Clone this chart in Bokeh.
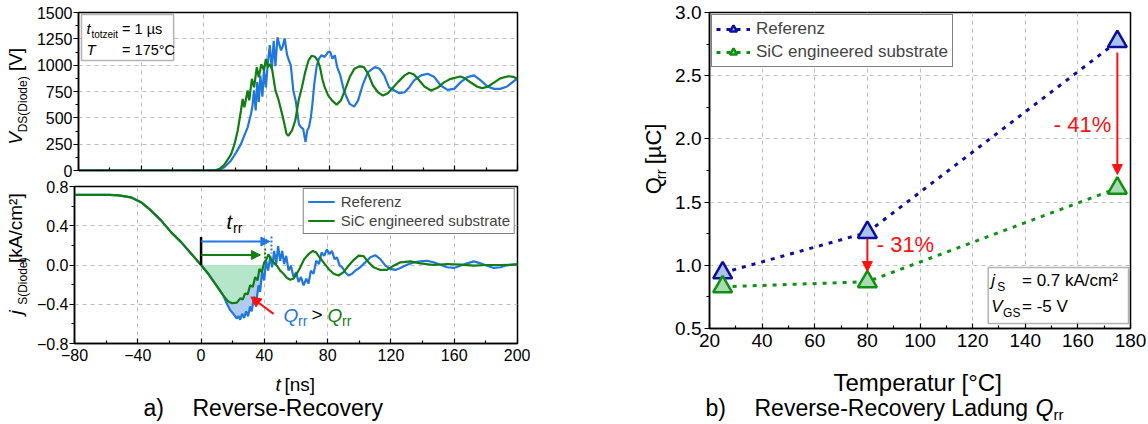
import math
import numpy as np
from bokeh.plotting import figure
from bokeh.layouts import row, column
from bokeh.models import (FixedTicker, Label, Arrow, NormalHead, BoxAnnotation,
                          Legend, LegendItem, Range1d)
from bokeh.embed import file_html
from bokeh.resources import INLINE

FONT = "Liberation Sans"

# ---------------- data ----------------
# (a) top: V_DS(Diode) [V] over t [ns]
t_ref_v = [-80, 8.9, 13, 17.3, 20.5, 23.6, 26, 27.9, 30, 31, 31.9, 33, 34, 35, 36, 37.3, 38.3, 39.5, 40.7, 42,
           43.3, 44.5, 45.6, 46.9, 48, 49.2, 50.3, 51.5, 53, 54.3, 55.4, 57, 58.5, 60.6, 62, 63.3, 64.8, 65.9, 67,
           68.2, 69.2, 70.4, 72, 73.4, 75, 77, 79.3, 80.5, 82, 83.5, 85, 87, 89, 91, 93, 95.8, 98.3, 101.5, 104.7,
           109, 112, 115, 118, 121.5, 124.7, 128, 131, 134, 138.5, 142.7, 147, 151, 155.4, 159.6, 163.8, 168,
           172.3, 176.5, 180.8, 185, 189, 193.4, 198.7, 200]
v_ref = [0, 0, 30, 95, 170, 250, 340, 410, 537, 617, 760, 570, 840, 650, 900, 700, 960, 790, 1010, 1190,
         960, 1230, 990, 1265, 1200, 1140, 1180, 1255, 1100, 1040, 1000, 760, 665, 440, 410, 395, 270, 380, 410,
         504, 632, 823, 998, 1062, 1094, 1078, 1126, 1126, 1062, 1094, 982, 903, 775, 695, 632, 606, 663, 823, 935,
         982, 966, 903, 791, 760, 734, 743, 791, 855, 903, 919, 887, 807, 766, 775, 839, 887,
         903, 855, 798, 775, 775, 798, 861, 865]
t_sic_v = [-80, 6.8, 10, 13.1, 17.3, 19.5, 21.5, 23.6, 24.7, 25.8, 27.9, 28.9, 30.6, 32, 33.7, 35, 36.6, 38.3,
           39.5, 40.8, 42.1, 43.5, 45.6, 47.7, 49.8, 51.3, 52.6, 53.8, 55, 56.2, 58.3, 60.4, 62.5, 64.6, 66.7, 68.8,
           70.8, 72.5, 74, 75.5, 77, 79.3, 81.8, 84.6, 87.3, 89.9, 93, 96, 99.4, 102, 104.7, 107.8, 111, 114.2,
           117.3, 120.5, 123.7, 128, 131, 134, 137.4, 140.6, 144.8, 149, 153.3, 157.5, 163.5, 166.5, 170.2, 174.4,
           177.5, 181, 185, 189, 194, 197.5, 200]
v_sic = [0, 0, 15, 57, 153, 250, 375, 567, 680, 600, 760, 665, 870, 790, 980, 885, 1010, 950,
         1060, 980, 1010, 960, 760, 665, 540, 445, 350, 330, 355, 380, 477, 665, 790, 935, 1045, 1090,
         1080, 1046, 982, 871, 791, 711, 663, 625, 663, 760, 887, 967, 989, 982, 919, 807, 743, 711,
         734, 785, 839, 903, 928, 912, 855, 798, 760, 785, 839, 870, 892, 875, 835, 795,
         782, 795, 835, 875, 895, 888, 870]

# (a) bottom: j_S(Diode) [kA/cm²] over t [ns]
t_common_j = [-80, -58, -52, -44.4, -38, -31.7, -25.3, -19, -12.6, -6.2, 0, 5, 10, 14]
j_common = [0.715, 0.715, 0.71, 0.69, 0.64, 0.556, 0.455, 0.335, 0.233, 0.115, 0.0, -0.1, -0.215, -0.31]
t_ref_j_tail = [16.2, 18.4, 20.5, 22.6, 23.6, 24.7, 26, 27.2, 28.5, 29.7, 31, 32, 33.5, 34.8, 36.3, 37.3, 38.6,
                39.9, 41.1, 42.4, 43.7, 44.9, 46.2, 47.5, 48.7, 50, 51.3, 52.5, 53.8, 55.3, 56.8, 58.4, 60.1,
                61.6, 63.1, 64.8, 66.5, 67.9, 69.4, 71.1, 72.8, 74.5, 76.2, 77.8, 79.5, 81.2, 82.7, 84.4, 85.9,
                87.6, 89.2, 91.1, 93.2, 95.4, 97.5, 100.6, 103.8, 107, 110.1, 113.3, 116.5, 119.6, 122.8, 126,
                130.2, 134.4, 138.6, 142.8, 147, 151.3, 155.5, 159.7, 163.9, 168.1, 172.4, 176.6, 180.8, 185,
                189.2, 193.5, 200]
j_ref_tail = [-0.39, -0.46, -0.5, -0.545, -0.52, -0.557, -0.497, -0.54, -0.473, -0.523, -0.423, -0.473, -0.323,
              -0.39, -0.207, -0.273, -0.073, -0.157, 0.043, -0.057, 0.093, -0.023, 0.143, 0.01, 0.193, 0.043,
              0.143, 0.01, 0.093, -0.057, -0.007, -0.123, -0.073, -0.173, -0.123, -0.207, -0.14, -0.19, -0.057,
              -0.09, 0.043, 0.01, 0.127, 0.093, 0.16, 0.11, 0.143, 0.06, 0.077, -0.007, -0.023, -0.073, -0.107,
              -0.09, -0.057, -0.023, 0.027, 0.08, 0.1, 0.06, -0.007, -0.04, -0.05, -0.03, 0.003, 0.027, 0.037,
              0.043, 0.027, 0.003, -0.023, -0.03, -0.007, 0.017, 0.037, 0.017, -0.007, -0.03, -0.023, -0.003, 0.01]
t_sic_j_tail = [17, 19.5, 22.6, 24.7, 26.4, 27.8, 29.5, 31, 32.7, 34.2, 35.7, 36.9, 38.4, 39.9, 41.1, 42.6, 44.1,
                45.8, 47.9, 50, 52.1, 54.2, 56.3, 58.4, 60.5, 62.7, 65.2, 67.9, 70.7, 72.8, 74.9, 77.4, 80.6,
                83.8, 86.9, 90.1, 93.2, 96.4, 99.6, 102.7, 105.9, 109, 113.3, 117.5, 121.7, 126, 132.3, 138.6,
                147, 155.5, 164, 172.4, 180.8, 189.2, 200]
j_sic_tail = [-0.37, -0.39, -0.383, -0.34, -0.35, -0.29, -0.297, -0.207, -0.223, -0.123, -0.157, -0.04, -0.073,
              0.027, 0.05, 0.11, 0.06, 0.027, -0.007, -0.057, -0.09, -0.13, -0.15, -0.14, -0.09, -0.023, 0.06,
              0.11, 0.143, 0.127, 0.077, 0.027, -0.04, -0.09, -0.107, -0.073, -0.007, 0.05, 0.095, 0.09, 0.027,
              -0.023, -0.05, -0.05, -0.007, 0.027, 0.037, 0.017, 0.0, 0.01, 0.003, -0.007, 0.0, 0.0, 0.003]

# (b) Q_rr [µC] over temperature [°C]
temps = [25, 80, 175]
qrr_ref = [0.94, 1.26, 2.77]
qrr_sic = [0.83, 0.87, 1.61]

series_names = ["Referenz", "SiC engineered substrate"]
x_ticks = [-80, -40, 0, 40, 80, 120, 160, 200]
x_minor = [-60, -20, 20, 60, 100, 140, 180]
v_ticks = [0, 250, 500, 750, 1000, 1250, 1500]
v_minor = [125, 375, 625, 875, 1125, 1375]
j_ticks = [-0.8, -0.4, 0, 0.4, 0.8]
j_minor = [-0.6, -0.2, 0.2, 0.6]
temp_ticks = [20, 40, 60, 80, 100, 120, 140, 160, 180]
temp_minor = [30, 50, 70, 90, 110, 130, 150, 170]
q_ticks = [0.5, 1.0, 1.5, 2.0, 2.5, 3.0]
q_minor = [0.75, 1.25, 1.75, 2.25, 2.75]

# ---------------- styles ----------------
BLUE_L = "#2277dd"
GREEN_L = "#127d12"
BLUE_FILL = "#aecbf0"
GREEN_FILL = "#b6e6c9"
BLUE_R = "#0d0d9e"
BLUE_R_FILL = "#a9c4ea"
GREEN_R = "#109010"
GREEN_R_FILL = "#a9dab3"
RED = "#ff1010"
GRID = "#bdbdbd"
ROT = math.pi / 2

t_ref_j = t_common_j + t_ref_j_tail
j_ref = j_common + j_ref_tail
t_sic_j = t_common_j + t_sic_j_tail
j_sic = j_common + j_sic_tail


def style_fig(p):
    p.outline_line_color = "black"
    p.outline_line_width = 1.5
    for g in (p.xgrid[0], p.ygrid[0]):
        g.grid_line_color = GRID
        g.grid_line_dash = "4 4"
        g.grid_line_width = 1


def style_axis(ax, size, inside):
    ax.axis_line_color = "black"
    ax.axis_line_width = 1.5
    ax.major_label_text_font = FONT
    ax.major_label_text_font_size = f"{size}px"
    ax.major_label_text_color = "black"
    ax.major_tick_line_color = "black"
    ax.minor_tick_line_color = "black"
    ax.major_tick_line_width = 1.2
    ax.minor_tick_line_width = 1.2
    if inside:
        ax.major_tick_in, ax.major_tick_out = 5, 0
        ax.minor_tick_in, ax.minor_tick_out = 3, 0
    else:
        ax.major_tick_in, ax.major_tick_out = 0, 5
        ax.minor_tick_in, ax.minor_tick_out = 0, 3


def ident(v):
    return v


def lab(p, px, py, text, size, fx=ident, fy=ident, color="black", style="normal", rot=False):
    """Place a text whose alphabetic baseline starts at page pixel (px, py)."""
    if rot:
        cx, cy, ang = px - 0.33 * size, py, ROT
    else:
        cx, cy, ang = px, py - 0.33 * size, 0.0
    p.add_layout(Label(x=fx(cx), y=fy(cy), text=text, text_font=FONT, text_font_size=f"{size}px",
                       text_color=color, text_font_style=style, angle=ang,
                       text_align="left", text_baseline="middle"))


def text_fig(x0, y0, w, h):
    """Blank figure whose data coordinates equal page pixels (for texts outside plot frames)."""
    return figure(width=w, height=h, x_range=Range1d(x0, x0 + w), y_range=Range1d(y0 + h, y0),
                  x_axis_type=None, y_axis_type=None, output_backend="svg", toolbar_location=None,
                  min_border=0, outline_line_color=None)


# pixel -> data helpers for annotations inside the frames
def xa(px):
    return -80 + (px - 74) * 280 / 443


def y1(py):
    return 1500 - (py - 12) * 1500 / 158


def y2(py):
    return 0.8 - (py - 186) * 1.6 / 157


def x3(px):
    return 20 + (px - 707) * 160 / 423


def y3(py):
    return 3.0 - (py - 12) * 2.5 / 316


# ---------------- (a) top ----------------
p1 = figure(width=497, height=178, x_range=Range1d(-80, 200), y_range=Range1d(0, 1500),
            output_backend="svg", toolbar_location=None,
            min_border_left=41, min_border_right=13, min_border_top=12, min_border_bottom=8)
style_fig(p1)
p1.xaxis.ticker = FixedTicker(ticks=x_ticks, minor_ticks=x_minor)
p1.yaxis.ticker = FixedTicker(ticks=v_ticks, minor_ticks=v_minor)
style_axis(p1.xaxis[0], 1, True)
style_axis(p1.yaxis[0], 16, False)
p1.xaxis.major_label_overrides = {t: "" for t in x_ticks}
p1.xaxis.major_label_standoff = 0
p1.yaxis.major_label_standoff = 1

p1.line(t_ref_v, v_ref, line_color=BLUE_L, line_width=2.2)
p1.line(t_sic_v, v_sic, line_color=GREEN_L, line_width=2.2)

p1.add_layout(BoxAnnotation(left=xa(77), right=xa(170), top=y1(14), bottom=y1(60),
                            fill_color="white", fill_alpha=1, line_color="black", line_width=1.5))
lab(p1, 82, 33, "t", 15, xa, y1, style="italic")
lab(p1, 87, 37, "totzeit", 10, xa, y1)
lab(p1, 118, 33, "= 1 µs", 14.5, xa, y1)
lab(p1, 82, 54, "T", 15, xa, y1, style="italic")
lab(p1, 118, 54, "= 175°C", 14.5, xa, y1)

# ---------------- (a) bottom ----------------
p2 = figure(width=497, height=195, x_range=Range1d(-80, 200), y_range=Range1d(-0.8, 0.8),
            output_backend="svg", toolbar_location=None,
            min_border_left=41, min_border_right=13, min_border_top=8, min_border_bottom=30)
style_fig(p2)
p2.xaxis.ticker = FixedTicker(ticks=x_ticks, minor_ticks=x_minor)
p2.yaxis.ticker = FixedTicker(ticks=j_ticks, minor_ticks=j_minor)
style_axis(p2.xaxis[0], 16, True)
style_axis(p2.yaxis[0], 16, False)
p2.xaxis.major_label_overrides = {-80: "\u221280", -40: "\u221240"}
p2.yaxis.major_label_overrides = {-0.8: "\u22120.8", -0.4: "\u22120.4", 0: "0.0", 0.4: "0.4", 0.8: "0.8"}
p2.yaxis.major_label_standoff = 1
p2.xaxis.major_label_standoff = 5

# shaded recovery charge areas
tr = np.array(t_ref_j, dtype=float)
jr = np.array(j_ref, dtype=float)
mr = (tr >= 0) & (tr <= 44)
p2.varea(x=tr[mr], y1=0, y2=np.minimum(jr[mr], 0), fill_color=BLUE_FILL, fill_alpha=1)
ts = np.array(t_sic_j, dtype=float)
js = np.array(j_sic, dtype=float)
ms = (ts >= 0) & (ts <= 40)
p2.varea(x=ts[ms], y1=0, y2=np.minimum(js[ms], 0), fill_color=GREEN_FILL, fill_alpha=1)

r_ref = p2.line(t_ref_j, j_ref, line_color=BLUE_L, line_width=2.2)
r_sic = p2.line(t_sic_j, j_sic, line_color=GREEN_L, line_width=2.2)

leg1 = Legend(items=[LegendItem(label=series_names[0], renderers=[r_ref]),
                     LegendItem(label=series_names[1], renderers=[r_sic])],
              location="top_right", margin=2, padding=4, spacing=2,
              label_text_font=FONT, label_text_font_size="15px",
              glyph_width=27, glyph_height=17, label_height=17, label_standoff=6,
              border_line_color="black", border_line_width=1.5, background_fill_alpha=1)
p2.add_layout(leg1)

# t_rr marker and arrows
p2.segment(x0=[0], y0=[0.0], x1=[0], y1=[y2(236.5)], line_color="black", line_width=2.5)
p2.add_layout(Arrow(end=NormalHead(size=9, fill_color=BLUE_L, line_color=BLUE_L),
                    x_start=0, y_start=y2(241), x_end=43.5, y_end=y2(241),
                    line_color=BLUE_L, line_width=2))
p2.add_layout(Arrow(end=NormalHead(size=9, fill_color=GREEN_L, line_color=GREEN_L),
                    x_start=0, y_start=y2(254.5), x_end=37.5, y_end=y2(254.5),
                    line_color=GREEN_L, line_width=2))
p2.segment(x0=[44.5], y0=[y2(236)], x1=[44.5], y1=[y2(253)], line_color=BLUE_L,
           line_width=2, line_dash="2 2")
p2.segment(x0=[40.5], y0=[y2(248)], x1=[40.5], y1=[y2(258)], line_color=GREEN_L,
           line_width=2, line_dash="2 2")
lab(p2, 226, 228, "t", 20, xa, y2, style="italic")
lab(p2, 232.5, 232, "rr", 14, xa, y2)

p2.add_layout(Arrow(end=NormalHead(size=10, fill_color=RED, line_color=RED),
                    x_start=45.8, y_start=-0.498, x_end=31.5, y_end=-0.325,
                    line_color=RED, line_width=2))
lab(p2, 283, 321, "Q", 19, xa, y2, color=BLUE_L, style="italic")
lab(p2, 297.5, 325, "rr", 14, xa, y2, color=BLUE_L)
lab(p2, 311, 320, ">", 19, xa, y2)
lab(p2, 327, 321, "Q", 19, xa, y2, color=GREEN_L, style="italic")
lab(p2, 341.5, 325, "rr", 14, xa, y2, color=GREEN_L)

# ---------------- text areas of (a) ----------------
ylabA = text_fig(0, 0, 33, 178)
lab(ylabA, 21, 149, "V", 19, style="italic", rot=True)
lab(ylabA, 26, 135, "DS(Diode)", 12, rot=True)
lab(ylabA, 21, 66, "[V]", 19, rot=True)

ylabB = text_fig(0, 178, 33, 195)
lab(ylabB, 21, 337, "j", 19, style="italic", rot=True)
lab(ylabB, 26, 325, "S(Diode)", 12, rot=True)
lab(ylabB, 21, 273, "[kA/cm²]", 19, rot=True)

capA = text_fig(0, 373, 530, 51)
lab(capA, 275, 390, "t", 19, style="italic")
lab(capA, 284, 390, "[ns]", 19)
lab(capA, 143, 415, "a)", 23)
lab(capA, 192, 415, "Reverse-Recovery", 23)

# ---------------- (b) ----------------
p3 = figure(width=476, height=358, x_range=Range1d(20, 180), y_range=Range1d(0.5, 3.0),
            output_backend="svg", toolbar_location=None,
            min_border_left=35, min_border_right=18, min_border_top=12, min_border_bottom=30)
style_fig(p3)
p3.xaxis.ticker = FixedTicker(ticks=temp_ticks, minor_ticks=temp_minor)
p3.yaxis.ticker = FixedTicker(ticks=q_ticks, minor_ticks=q_minor)
style_axis(p3.xaxis[0], 19, True)
style_axis(p3.yaxis[0], 19, False)
p3.yaxis.major_label_overrides = {0.5: "0.5", 1.0: "1.0", 1.5: "1.5", 2.0: "2.0", 2.5: "2.5", 3.0: "3.0"}
p3.yaxis.major_label_standoff = 3
p3.xaxis.major_label_standoff = 5

l_ref = p3.line(temps, qrr_ref, line_color=BLUE_R, line_width=3, line_dash="4 6")
s_ref = p3.scatter(temps, qrr_ref, marker="triangle", size=19, fill_color=BLUE_R_FILL,
                   line_color=BLUE_R, line_width=2.5)
l_sic = p3.line(temps, qrr_sic, line_color=GREEN_R, line_width=3, line_dash="4 6")
s_sic = p3.scatter(temps, qrr_sic, marker="triangle", size=19, fill_color=GREEN_R_FILL,
                   line_color=GREEN_R, line_width=2.5)

leg2 = Legend(items=[LegendItem(label=series_names[0], renderers=[l_ref, s_ref]),
                     LegendItem(label=series_names[1], renderers=[l_sic, s_sic])],
              location="top_left", margin=2, padding=4, spacing=3,
              label_text_font=FONT, label_text_font_size="17px",
              glyph_width=34, glyph_height=18, label_height=18, label_standoff=6,
              border_line_color="black", border_line_width=1.5, background_fill_alpha=1)
p3.add_layout(leg2)

p3.add_layout(Arrow(end=NormalHead(size=10, fill_color=RED, line_color=RED),
                    x_start=175, y_start=y3(52), x_end=175, y_end=y3(174),
                    line_color=RED, line_width=2))
p3.add_layout(Arrow(end=NormalHead(size=10, fill_color=RED, line_color=RED),
                    x_start=80, y_start=y3(238), x_end=80, y_end=y3(271),
                    line_color=RED, line_width=2))
lab(p3, 1053, 131, "- 41%", 22, x3, y3, color=RED)
lab(p3, 875, 251, "- 31%", 22, x3, y3, color=RED)

p3.add_layout(BoxAnnotation(left=x3(987), right=x3(1128), top=y3(267), bottom=y3(323),
                            fill_color="white", fill_alpha=1, line_color="black", line_width=1.5))
lab(p3, 990, 286, "j", 17, x3, y3, style="italic")
lab(p3, 996, 290, "S", 12, x3, y3)
lab(p3, 1021, 286, "= 0.7 kA/cm²", 17, x3, y3)
lab(p3, 990, 312, "V", 17, x3, y3, style="italic")
lab(p3, 1002, 316, "GS", 12, x3, y3)
lab(p3, 1021, 312, "= -5 V", 17, x3, y3)

ylabR = text_fig(530, 0, 142, 358)
lab(ylabR, 660, 206, "Q", 22, rot=True)
lab(ylabR, 665, 189, "rr", 15, rot=True)
lab(ylabR, 660, 172, "[µC]", 22, rot=True)

capB = text_fig(530, 358, 618, 66)
lab(capB, 833, 390, "Temperatur [°C]", 24)
lab(capB, 705, 415, "b)", 23)
lab(capB, 754, 415, "Reverse-Recovery Ladung", 23)
lab(capB, 1035, 415, "Q", 23, style="italic")
lab(capB, 1053, 419, "rr", 15)

left = column(row(ylabA, p1, spacing=0), row(ylabB, p2, spacing=0), capA, spacing=0)
right = column(row(ylabR, p3, spacing=0), capB, spacing=0)
layout = row(left, right, spacing=0)
open("out.html", "w").write(file_html(layout, INLINE))
